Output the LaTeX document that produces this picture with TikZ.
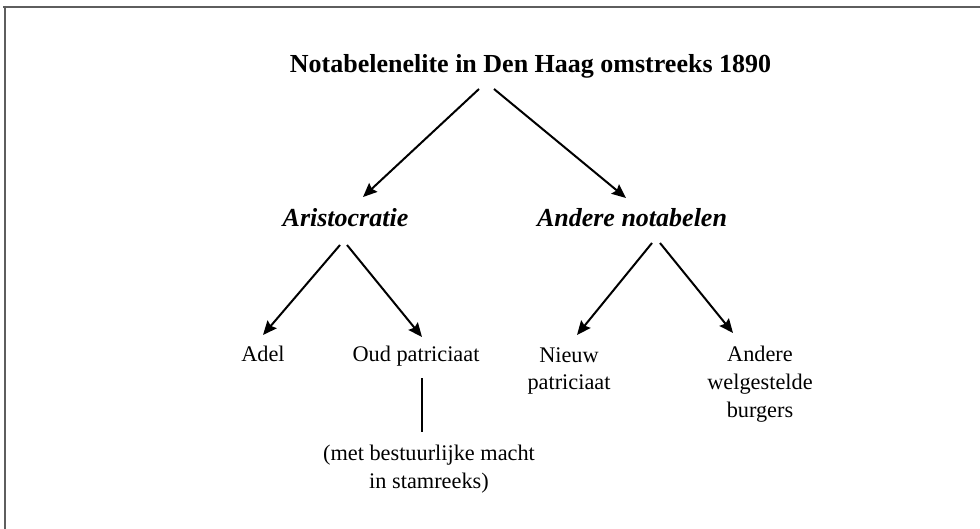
\documentclass[tikz,border=0pt]{standalone}
\usepackage{fontspec}
\setmainfont{Liberation Serif}
\usetikzlibrary{arrows.meta,calc}
\definecolor{framegray}{HTML}{5E5E5E}
\tikzset{
  txt/.style={inner sep=0pt, anchor=base, align=center, font=\fontsize{22.3}{27.5}\selectfont},
  ttl/.style={inner sep=0pt, anchor=base, font=\fontsize{26}{30}\selectfont\bfseries},
  cat/.style={inner sep=0pt, anchor=base, font=\fontsize{26}{30}\selectfont\bfseries\itshape},
  arr/.style={line width=2pt, -{Stealth[length=14pt,width=12pt,inset=2pt]}},
  plain/.style={line width=2pt},
  frameline/.style={draw=framegray, line width=2pt}
}
\begin{document}
\begin{tikzpicture}[x=1pt,y=-1pt]
\useasboundingbox (0,0) rectangle (980,529);
\draw[frameline] (3,7) -- (980,7);
\draw[frameline] (5,6) -- (5,529);

% base anchor of a multi-line node = baseline of its last line
\node[ttl] (title) at (530.5,73) {Notabelenelite in Den Haag omstreeks 1890};
\node[cat] (arist) at (345.5,227) {Aristocratie};
\node[cat] (andere) at (632,227) {Andere notabelen};
\node[txt] (adel) at (263,362) {Adel};
\node[txt] (oud) at (416,362) {Oud patriciaat};
\node[txt] (nieuw) at (569,389.5) {Nieuw\\patriciaat};
\node[txt] (welg) at (760,417) {Andere\\welgestelde\\burgers};
\node[txt] (met) at (429,488) {(met bestuurlijke macht\\in stamreeks)};

\draw[arr] ($(title.base)+(-51.5,16)$) -- ($(arist.base)+(17.5,-30)$);
\draw[arr] ($(title.base)+(-36.5,16)$) -- ($(andere.base)+(-6,-29)$);
\draw[arr] ($(arist.base)+(-5.5,18)$) -- ($(adel.base)+(0,-27)$);
\draw[arr] ($(arist.base)+(1.5,18)$) -- ($(oud.base)+(6,-25)$);
\draw[arr] ($(andere.base)+(20,16)$) -- ($(nieuw.base)+(8,-54.5)$);
\draw[arr] ($(andere.base)+(28,16)$) -- ($(welg.base)+(-27,-84)$);
\draw[plain] ($(oud.base)+(6,16)$) -- ($(met.base)+(-7,-56)$);
\end{tikzpicture}
\end{document}
